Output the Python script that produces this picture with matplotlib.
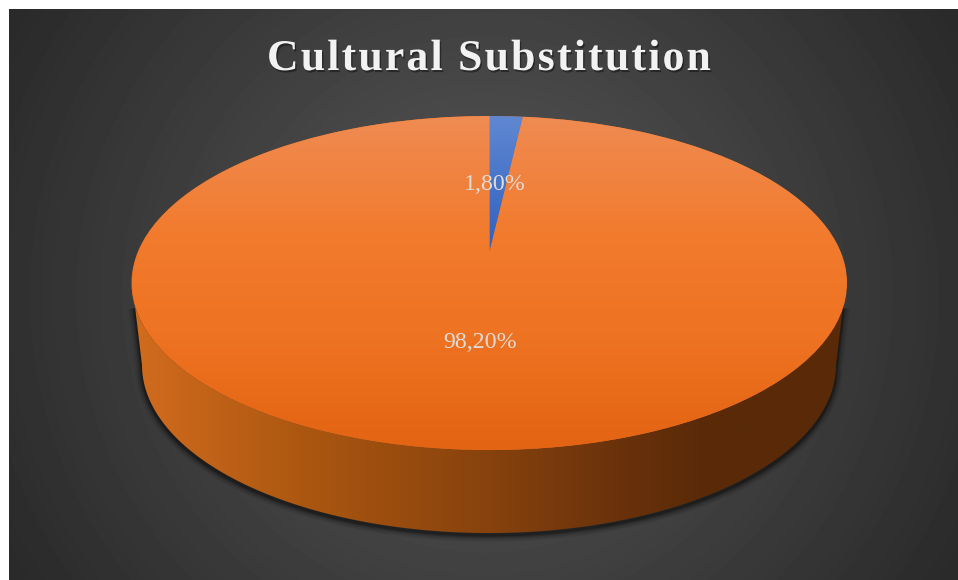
import numpy as np
import matplotlib
matplotlib.use("Agg")
import matplotlib.pyplot as plt
import matplotlib.patheffects as pe
from matplotlib.colors import LinearSegmentedColormap
from matplotlib.patches import Ellipse, Polygon
from matplotlib.text import Text
from matplotlib.transforms import Transform

TITLE = "Cultural Substitution"
CATEGORIES = ["Yes", "No"]
SHARES = [1.80, 98.20]
LABEL_POS = [(495, 185), (480, 343)]

WIDTH, HEIGHT = 958, 580
TILT = 0.186
TRACKING = 2.2


class PieTilt(Transform):
    # perspective of a circle seen from above: rim stays an ellipse, centre moves up
    input_dims = 2
    output_dims = 2
    is_separable = False
    has_inverse = False

    def transform_non_affine(self, values):
        u, v = values[:, 0], values[:, 1]
        w = 1 + TILT * v
        return np.column_stack(
            [u * np.sqrt(1 - TILT**2) / w, (v + TILT) / w]
        )


class TrackedText(Text):
    # one text object, drawn with extra space between the letters
    def draw(self, renderer):
        text = self.get_text()
        x0, y0 = self.get_position()
        prop = self.get_fontproperties()
        for i, ch in enumerate(text):
            w = renderer.get_text_width_height_descent(text[:i], prop, False)[0] if i else 0
            self.set_text(ch)
            self.set_position((x0 + w + i * TRACKING, y0))
            super().draw(renderer)
        self.set_text(text)
        self.set_position((x0, y0))


def arc(cx, cy, rx, ry, start, stop):
    t = np.radians(np.linspace(start, stop, 200))
    return np.column_stack([cx + rx * np.cos(t), cy + ry * np.sin(t)])


def main():
    plt.rcParams["font.family"] = ["Liberation Serif", "DejaVu Serif"]

    fig = plt.figure(figsize=(WIDTH / 100, HEIGHT / 100), dpi=100, facecolor="white")

    bg = fig.add_axes([0, 0, 1, 1])
    bg.axis("off")

    # background, radial grey
    yy, xx = np.mgrid[9:HEIGHT, 9:WIDTH]
    dist = np.hypot(xx - 484, yy - 294) / 545
    shade = (0x59 - (0x59 - 0x2a) * np.clip(dist, 0, 1)) / 255
    bg.imshow(
        shade, cmap="gray", vmin=0, vmax=1, extent=(9, WIDTH, HEIGHT, 9),
        aspect="auto", zorder=0,
    )

    # side wall: front of the rim plus the smaller lower rim
    wall_xy = np.vstack([
        arc(489, 283, 357.5, 167, 172, 8),
        arc(489, 365, 347, 168, 0, 180),
    ])

    # soft shadow under the wall, open line so nothing shows along the rim
    shadow_xy = np.vstack([wall_xy[199:], wall_xy[:1]]) + [0, 2]
    for lw, alpha in [(10, 0.05), (8, 0.07), (6, 0.10), (4, 0.16), (2.2, 0.25)]:
        bg.plot(
            shadow_xy[:, 0], shadow_xy[:, 1], color="black", lw=lw, alpha=alpha,
            solid_capstyle="butt", zorder=1,
        )

    wall_cmap = LinearSegmentedColormap.from_list(
        "wall",
        [(0.0, "#d26c1e"), (0.25, "#aa5610"), (0.50, "#87420d"),
         (0.68, "#6a320b"), (0.80, "#5a2a08"), (1.0, "#5a2a08")],
    )
    wall = Polygon(wall_xy, closed=True, facecolor="none", edgecolor="none", zorder=2)
    bg.add_patch(wall)
    ramp = np.linspace(0, 1, 512).reshape(1, -1)
    wall_img = bg.imshow(
        ramp, cmap=wall_cmap, extent=(132, 847, 533, 283), aspect="auto", zorder=2,
    )
    wall_img.set_clip_path(wall)

    # flat rim colour under the face, hides hairline gaps
    bg.add_patch(Ellipse((489, 283), 715, 334, facecolor="#e86c1c", edgecolor="none", zorder=3))
    bg.set_xlim(0, WIDTH)
    bg.set_ylim(HEIGHT, 0)

    # top face
    left, right, top, bottom = 132, 847, 116, 450
    ax = fig.add_axes([
        left / WIDTH, 1 - bottom / HEIGHT,
        (right - left) / WIDTH, (bottom - top) / HEIGHT,
    ])
    wedges, _ = ax.pie(SHARES, startangle=90, counterclock=False, radius=1)
    ax.set_aspect("auto")

    face_maps = [
        LinearSegmentedColormap.from_list("blue", ["#2f60bf", "#6088d2"]),
        LinearSegmentedColormap.from_list(
            "orange",
            [(0.0, "#e36412"), (0.35, "#ee7322"), (0.65, "#f27b2e"), (1.0, "#ef8b52")],
        ),
    ]
    tilt = PieTilt()
    grad = np.linspace(0, 1, 256).reshape(-1, 1)
    for wedge, cmap in zip(wedges, face_maps):
        wedge.set_transform(tilt + ax.transData)
        wedge.set_facecolor("none")
        wedge.set_edgecolor("none")
        wedge.set_clip_on(False)
        extent = (-1, 1, -1, 1)
        if cmap.name == "blue":
            extent = (-1, 1, 0.186, 1)
        img = ax.imshow(
            grad, cmap=cmap, origin="lower", extent=extent, aspect="auto", zorder=2,
        )
        img.set_clip_path(wedge)
    ax.set_xlim(-1, 1)
    ax.set_ylim(-1, 1)
    ax.axis("off")

    for share, pos in zip(SHARES, LABEL_POS):
        label = f"{share:.2f}%".replace(".", ",")
        ax.text(
            pos[0], pos[1], label, transform=bg.transData, ha="center", va="center",
            fontsize=17.2, color="#dfdcd8", zorder=5,
        )

    title = TrackedText(
        267, 70, TITLE, ha="left", va="baseline", fontsize=31.5, fontweight="bold",
        color="#f2f2f2", zorder=5,
        path_effects=[
            pe.SimplePatchShadow(offset=(1.0, -1.5), shadow_rgbFace="black", alpha=0.4),
            pe.Normal(),
        ],
    )
    bg.add_artist(title)

    fig.savefig("out.png", dpi=100)
    plt.close(fig)


if __name__ == "__main__":
    main()
